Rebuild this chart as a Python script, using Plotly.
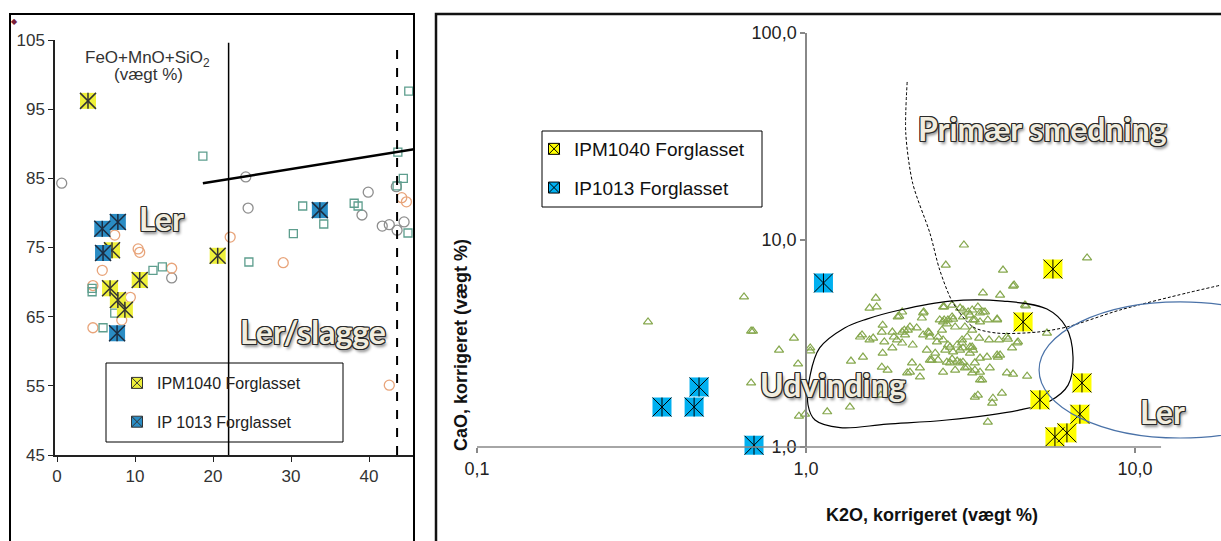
import plotly.graph_objects as go

W, H = 1221, 541

def px(v):
    return v / W

def py(v):
    return 1 - v / H

# ---------------- LEFT PANEL DATA ----------------
left_gray_x = [0.6, 24.2, 24.5, 39.9, 39.1, 41.7, 42.6, 43.6, 44.5, 43.5, 14.7]
left_gray_y = [84.3, 85.2, 80.7, 83.0, 79.7, 78.1, 78.3, 77.5, 78.7, 83.8, 70.6]

left_orange_x = [7.4, 10.6, 10.4, 5.8, 9.4, 4.6, 8.3, 22.2, 29.0, 44.2, 44.8, 42.6, 14.7, 4.6]
left_orange_y = [76.8, 74.3, 74.8, 71.7, 67.8, 63.4, 64.5, 76.5, 72.8, 82.2, 81.6, 55.1, 72.0, 69.5]

left_teal_x = [18.7, 31.5, 34.2, 30.3, 24.6, 38.1, 38.6, 43.7, 44.4, 43.6, 45.1, 45.0,
               12.3, 13.5, 4.5, 4.5, 7.4, 5.9]
left_teal_y = [88.2, 81.0, 78.4, 77.0, 72.9, 81.4, 81.0, 88.8, 85.0, 83.9, 97.6, 77.1,
               71.7, 72.2, 69.1, 68.6, 65.5, 63.4]

left_ipm1040_x = [3.97, 7.05, 6.8, 7.8, 8.7, 10.6, 20.6]
left_ipm1040_y = [96.2, 74.6, 69.1, 67.4, 66.0, 70.3, 73.8]

left_ip1013_x = [5.8, 7.8, 5.9, 7.7, 33.7]
left_ip1013_y = [77.7, 78.7, 74.2, 62.6, 80.4]

left_xticks = [0, 10, 20, 30, 40]
left_yticks = [45, 55, 65, 75, 85, 95, 105]

# guide lines of left panel (data units)
left_vline_solid = 22.0
left_vline_dashed = 43.6
left_slope_x = [18.7, 45.77]
left_slope_y = [84.3, 89.2]

# ---------------- RIGHT PANEL DATA ----------------
tri_k2o = [0.331, 0.648, 0.681, 0.690, 0.919, 0.828, 1.03, 0.946, 0.681, 0.952, 0.993, 1.16, 1.36, 1.03,
           1.69, 3.57, 4.70, 3.94, 3.70, 3.68, 3.26, 3.33, 4.08, 4.26, 3.62, 3.38, 3.20, 3.26, 3.09, 3.00,
           2.88, 2.78, 2.68, 2.52, 2.38, 2.22, 2.10, 2.22, 2.03, 1.77, 1.70, 2.07, 1.49, 1.37, 1.71, 1.83,
           1.96, 2.11, 2.33, 2.47, 2.65, 2.80, 2.94, 3.15, 3.20, 3.22, 3.81, 3.83, 3.89, 3.55, 3.38, 3.26,
           1.70, 1.83, 1.56, 1.60, 1.48, 1.46, 1.96, 2.00, 2.04, 2.17, 2.27, 2.38, 2.35, 2.50, 2.61, 2.70,
           2.88, 2.98, 3.09, 3.00, 2.70, 2.61, 2.78, 3.00, 3.15, 3.26, 3.38, 3.50, 3.57, 3.81, 4.08, 4.41,
           4.23, 1.64, 1.56, 1.90, 1.96, 2.27, 2.25, 2.61, 2.78, 3.00, 3.20, 1.63, 1.92, 2.28, 2.66, 2.63,
           1.71, 2.07, 1.99, 2.37, 1.73, 1.85, 1.89, 2.52, 2.55, 2.68, 3.02, 3.97, 4.29, 3.45, 3.89, 4.66,
           7.15, 2.94, 3.11, 3.33, 3.45, 3.81, 2.63, 2.80, 3.22, 2.59, 2.84, 3.04, 3.20, 3.38, 3.60, 3.86,
           4.11, 4.38, 3.36, 2.74, 2.98, 3.15, 4.26, 4.63, 5.40, 2.84, 3.04, 3.38, 2.61, 2.74, 2.94, 3.43,
           2.41]
tri_cao = [4.02, 5.31, 3.63, 3.63, 3.36, 2.94, 2.91, 2.52, 2.04, 1.41, 1.44, 1.48, 1.56, 3.01,
           1.78, 1.32, 2.20, 1.82, 1.72, 1.63, 1.74, 1.78, 2.28, 2.25, 2.41, 2.11, 2.28, 2.35, 2.43, 2.57,
           2.60, 2.66, 2.57, 2.63, 2.63, 2.41, 2.55, 2.18, 2.28, 2.35, 2.43, 2.30, 2.72, 2.60, 2.84, 3.01,
           3.18, 3.11, 2.94, 2.84, 2.94, 2.88, 2.94, 2.84, 3.04, 2.94, 2.78, 2.72, 2.78, 2.72, 2.69, 2.55,
           3.59, 3.59, 3.29, 3.36, 3.48, 3.40, 3.59, 3.48, 3.67, 3.76, 3.48, 3.40, 3.59, 3.22, 3.29, 3.11,
           3.11, 3.29, 3.40, 3.01, 4.11, 4.02, 4.25, 4.25, 4.34, 4.11, 4.44, 4.49, 4.11, 4.11, 3.40, 3.22,
           3.01, 4.75, 4.69, 4.25, 4.49, 4.44, 4.20, 4.75, 4.85, 4.59, 4.59, 5.24, 4.29, 4.49, 7.57, 4.75,
           3.88, 3.80, 3.67, 3.55, 3.22, 3.40, 3.29, 3.40, 4.11, 3.93, 9.46, 7.16, 6.06, 5.55, 5.42, 4.80,
           8.19, 4.69, 4.49, 4.75, 4.49, 4.15, 4.11, 4.15, 4.11, 3.67, 3.80, 3.80, 3.67, 4.02, 3.29, 3.29,
           3.32, 3.18, 3.36, 3.04, 3.18, 3.04, 5.99, 4.85, 3.55, 2.35, 2.41, 2.30, 2.30, 2.55, 2.55, 2.11,
           2.63]

right_ipm1040_k2o = [5.63, 4.57, 6.90, 5.14, 6.80, 6.21, 5.71]
right_ipm1040_cao = [7.24, 4.02, 2.04, 1.69, 1.44, 1.17, 1.12]

right_ip1013_k2o = [1.13, 0.473, 0.365, 0.457, 0.695]
right_ip1013_cao = [6.20, 1.95, 1.56, 1.56, 1.02]

right_xticks = [0.1, 1, 10]
right_xticktext = ["0,1", "1,0", "10,0"]
right_yticks = [1, 10, 100]
right_yticktext = ["1,0", "10,0", "100,0"]

# field outlines (data units)
udv_k2o = [1.014, 1.03, 1.10, 1.31, 1.53, 1.93, 2.74, 3.97, 5.40, 6.17, 6.48, 6.26, 5.52, 4.47,
           2.68, 1.76, 1.27, 1.065, 1.014]
udv_cao = [1.60, 2.23, 3.01, 3.76, 4.15, 4.59, 5.07, 5.07, 4.64, 3.80, 2.72, 1.99, 1.67, 1.51,
           1.35, 1.29, 1.24, 1.35, 1.60]

prim_k2o = [2.03, 2.01, 2.11, 2.38, 2.55, 2.80, 3.22, 3.81, 5.04, 6.21, 9.00, 14.4, 18.3]
prim_cao = [58.0, 32.9, 18.8, 10.8, 7.16, 4.96, 3.80, 3.55, 3.59, 3.80, 4.59, 5.55, 6.06]

ler_k2o = [5.11, 36.8]
ler_cao = [1.105, 5.02]

x2_axis_extent = [0.1, 12.0]

# ---------------- FIGURE ----------------
fig = go.Figure()
FONT = "Liberation Sans, Arial, sans-serif"


def add_star(xs, ys, fill, size, xa, ya, lw=1.0, lc="black"):
    fig.add_trace(go.Scatter(x=xs, y=ys, xaxis=xa, yaxis=ya, mode="markers", showlegend=False,
                             hoverinfo="skip", cliponaxis=(xa == "x"),
                             marker=dict(symbol="square", size=size, color=fill, line=dict(width=0))))
    fig.add_trace(go.Scatter(x=xs, y=ys, xaxis=xa, yaxis=ya, mode="markers", showlegend=False,
                             hoverinfo="skip", cliponaxis=(xa == "x"),
                             marker=dict(symbol="x-thin-open", size=size, color=lc,
                                         line=dict(width=lw, color=lc))))
    fig.add_trace(go.Scatter(x=xs, y=ys, xaxis=xa, yaxis=ya, mode="markers", showlegend=False,
                             hoverinfo="skip", cliponaxis=(xa == "x"),
                             marker=dict(symbol="line-ns-open", size=size / 1.4, color=lc,
                                         line=dict(width=lw, color=lc))))


# left panel background data
fig.add_trace(go.Scatter(x=left_gray_x, y=left_gray_y, mode="markers", showlegend=False, hoverinfo="skip",
                         marker=dict(symbol="circle-open", size=10, color="#8E8E8E", line=dict(width=1.3))))
fig.add_trace(go.Scatter(x=left_orange_x, y=left_orange_y, mode="markers", showlegend=False, hoverinfo="skip",
                         marker=dict(symbol="circle-open", size=10, color="#E8A47A", line=dict(width=1.3))))
fig.add_trace(go.Scatter(x=left_teal_x, y=left_teal_y, mode="markers", showlegend=False, hoverinfo="skip",
                         marker=dict(symbol="square-open", size=8, color="#5E9E8E", line=dict(width=1.3))))
add_star(left_ipm1040_x, left_ipm1040_y, "#EEF03A", 16, "x", "y", lw=1.5, lc="#333")
add_star(left_ip1013_x, left_ip1013_y, "#2A8CC4", 16, "x", "y", lw=1.5, lc="#1c2c40")

# right panel background data
fig.add_trace(go.Scatter(x=tri_k2o, y=tri_cao, xaxis="x2", yaxis="y2", mode="markers", showlegend=False,
                         hoverinfo="skip",
                         marker=dict(symbol="triangle-up-open", size=8, color="#86A84E", line=dict(width=1.2))))
fig.add_trace(go.Scatter(x=udv_k2o, y=udv_cao, xaxis="x2", yaxis="y2", mode="lines", showlegend=False,
                         hoverinfo="skip", line=dict(color="black", width=1.2, shape="spline", smoothing=1.0)))
fig.add_trace(go.Scatter(x=prim_k2o, y=prim_cao, xaxis="x2", yaxis="y2", mode="lines", showlegend=False,
                         hoverinfo="skip",
                         line=dict(color="black", width=1, dash="3px,2px", shape="spline", smoothing=0.8)))
add_star(right_ip1013_k2o, right_ip1013_cao, "#00B0F0", 19, "x2", "y2")
add_star(right_ipm1040_k2o, right_ipm1040_cao, "#FFFF00", 19, "x2", "y2")

# legend entries
fig.add_trace(go.Scatter(x=[None], y=[None], mode="markers", name="IPM1040 Forglasset", legend="legend",
                         legendgroup="a",
                         marker=dict(symbol="square-x", size=11, color="#EEF03A", line=dict(width=1, color="#333"))))
fig.add_trace(go.Scatter(x=[None], y=[None], mode="markers", name="IP 1013 Forglasset", legend="legend",
                         legendgroup="b",
                         marker=dict(symbol="square-x", size=11, color="#2A8CC4", line=dict(width=1, color="#333"))))
fig.add_trace(go.Scatter(x=[None], y=[None], xaxis="x2", yaxis="y2", mode="markers", name="IPM1040 Forglasset",
                         legend="legend2", legendgroup="c",
                         marker=dict(symbol="square-x", size=11, color="#FFFF00", line=dict(width=1, color="black"))))
fig.add_trace(go.Scatter(x=[None], y=[None], xaxis="x2", yaxis="y2", mode="markers", name="IP1013 Forglasset",
                         legend="legend2", legendgroup="d",
                         marker=dict(symbol="square-x", size=11, color="#00B0F0", line=dict(width=1, color="black"))))

shapes = [
    # panel frames
    dict(type="rect", xref="paper", yref="paper", x0=px(10), x1=px(414), y0=-0.02, y1=py(14),
         line=dict(color="black", width=2), layer="above"),
    dict(type="rect", xref="paper", yref="paper", x0=px(436), x1=1.02, y0=-0.02, y1=py(14),
         line=dict(color="#111", width=2.5), layer="above"),
    # left guide lines
    dict(type="line", xref="x", yref="y", x0=left_vline_solid, x1=left_vline_solid, y0=45, y1=104.6,
         line=dict(color="black", width=1.5)),
    dict(type="line", xref="x", yref="y", x0=left_vline_dashed, x1=left_vline_dashed, y0=45, y1=104.0,
         line=dict(color="black", width=2, dash="dash")),
    dict(type="line", xref="x", yref="y", x0=left_slope_x[0], x1=left_slope_x[1], y0=left_slope_y[0],
         y1=left_slope_y[1], line=dict(color="black", width=2.5)),
    # legend boxes
    dict(type="rect", xref="paper", yref="paper", x0=px(106), x1=px(343), y0=py(442), y1=py(363),
         line=dict(color="black", width=1)),
    dict(type="rect", xref="paper", yref="paper", x0=px(542), x1=px(762), y0=py(207), y1=py(131),
         line=dict(color="black", width=1), fillcolor="white", layer="below"),
    # Ler field (right)
    dict(type="circle", xref="x2", yref="y2", x0=ler_k2o[0], x1=ler_k2o[1], y0=ler_cao[0], y1=ler_cao[1],
         line=dict(color="#4A72A8", width=1.2)),
    # bottom axis line of right panel
    dict(type="line", xref="x2", yref="paper", x0=x2_axis_extent[0], x1=x2_axis_extent[1],
         y0=py(447), y1=py(447), line=dict(color="#888", width=1.5)),
]

OUTLINE = ("-1px -1px 0 #2a2a2a, 1px -1px 0 #2a2a2a, -1px 1px 0 #2a2a2a, 1px 1px 0 #2a2a2a, "
           "0 -1px 0 #2a2a2a, 0 1px 0 #2a2a2a, -1px 0 0 #2a2a2a, 1px 0 0 #2a2a2a, 2px 3px 3px rgba(0,0,0,0.45)")


def label(text, xc, yc, size=32):
    return dict(text=text, xref="paper", yref="paper", x=px(xc), y=py(yc), xanchor="center", yanchor="middle",
                showarrow=False,
                font=dict(family="Lato, sans-serif", size=size, color="#F1EDDF", weight=700, shadow=OUTLINE))


annotations = [
    dict(text="FeO+MnO+SiO<sub>2</sub>", xref="paper", yref="paper", x=px(147), y=py(59), xanchor="center",
         yanchor="middle", showarrow=False, font=dict(family=FONT, size=17, color="#333")),
    dict(text="(vægt %)", xref="paper", yref="paper", x=px(148), y=py(75), xanchor="center",
         yanchor="middle", showarrow=False, font=dict(family=FONT, size=17, color="#333")),
    dict(text="◆", xref="paper", yref="paper", x=px(15), y=py(22), xanchor="center", yanchor="middle",
         showarrow=False, font=dict(size=8, color="#7B2039")),
    label("Ler", 162, 218),
    label("Ler/slagge", 313, 331),
    label("Primær smedning", 1042, 128),
    label("Udvinding", 833, 384),
    label("Ler", 1162, 411),
    dict(text="<b>CaO, korrigeret (vægt %)</b>", xref="paper", yref="paper", x=px(461), y=py(345),
         xanchor="center", yanchor="middle", textangle=-90, showarrow=False,
         font=dict(family=FONT, size=18, color="#111")),
    dict(text="<b>K2O, korrigeret (vægt %)</b>", xref="paper", yref="paper", x=px(932), y=py(515),
         xanchor="center", yanchor="middle", showarrow=False, font=dict(family=FONT, size=18, color="#111")),
]

fig.update_layout(
    width=W, height=H, margin=dict(l=0, r=0, t=0, b=0, pad=0, autoexpand=False),
    paper_bgcolor="white", plot_bgcolor="rgba(0,0,0,0)",
    font=dict(family=FONT),
    xaxis=dict(domain=[px(55), px(414)], range=[-0.26, 45.77], tickvals=left_xticks, anchor="y",
               showline=True, linecolor="#222", linewidth=1.5, ticks="outside", ticklen=5, tickcolor="#222",
               tickwidth=1.2, tickfont=dict(size=17, color="#333", family=FONT), showgrid=False, zeroline=False,
               automargin=False),
    yaxis=dict(domain=[py(455), py(40)], range=[45, 105], tickvals=left_yticks, anchor="x",
               showline=True, linecolor="#222", linewidth=1.5, ticks="outside", ticklen=5, tickcolor="#222",
               tickwidth=1.2, tickfont=dict(size=17, color="#333", family=FONT), showgrid=False, zeroline=False,
               automargin=False),
    xaxis2=dict(type="log", domain=[px(477), 1.0], range=[-1, 1.2614], tickvals=right_xticks,
                ticktext=right_xticktext, anchor="y2", showline=False, ticks="outside", ticklen=5,
                tickcolor="#888", tickwidth=1.5, tickfont=dict(size=18, color="#222", family=FONT),
                showgrid=False, zeroline=False, automargin=False),
    yaxis2=dict(type="log", domain=[py(447), py(33)], range=[0, 2], tickvals=right_yticks,
                ticktext=right_yticktext, anchor="free", position=px(806), showline=True, linecolor="#888",
                linewidth=1.5, ticks="outside", ticklen=5, tickcolor="#888", tickwidth=1.5,
                tickfont=dict(size=18, color="#222", family=FONT), showgrid=False, zeroline=False,
                automargin=False),
    legend=dict(x=px(117), y=py(366), xanchor="left", yanchor="top", bgcolor="rgba(0,0,0,0)", borderwidth=0,
                font=dict(family=FONT, size=16, color="#222"), traceorder="grouped", tracegroupgap=15),
    legend2=dict(x=px(534), y=py(130), xanchor="left", yanchor="top", bgcolor="rgba(0,0,0,0)", borderwidth=0,
                 font=dict(family=FONT, size=19, color="#111"), traceorder="grouped", tracegroupgap=11),
    shapes=shapes,
    annotations=annotations,
    showlegend=True,
)

fig.write_html("out.html")
